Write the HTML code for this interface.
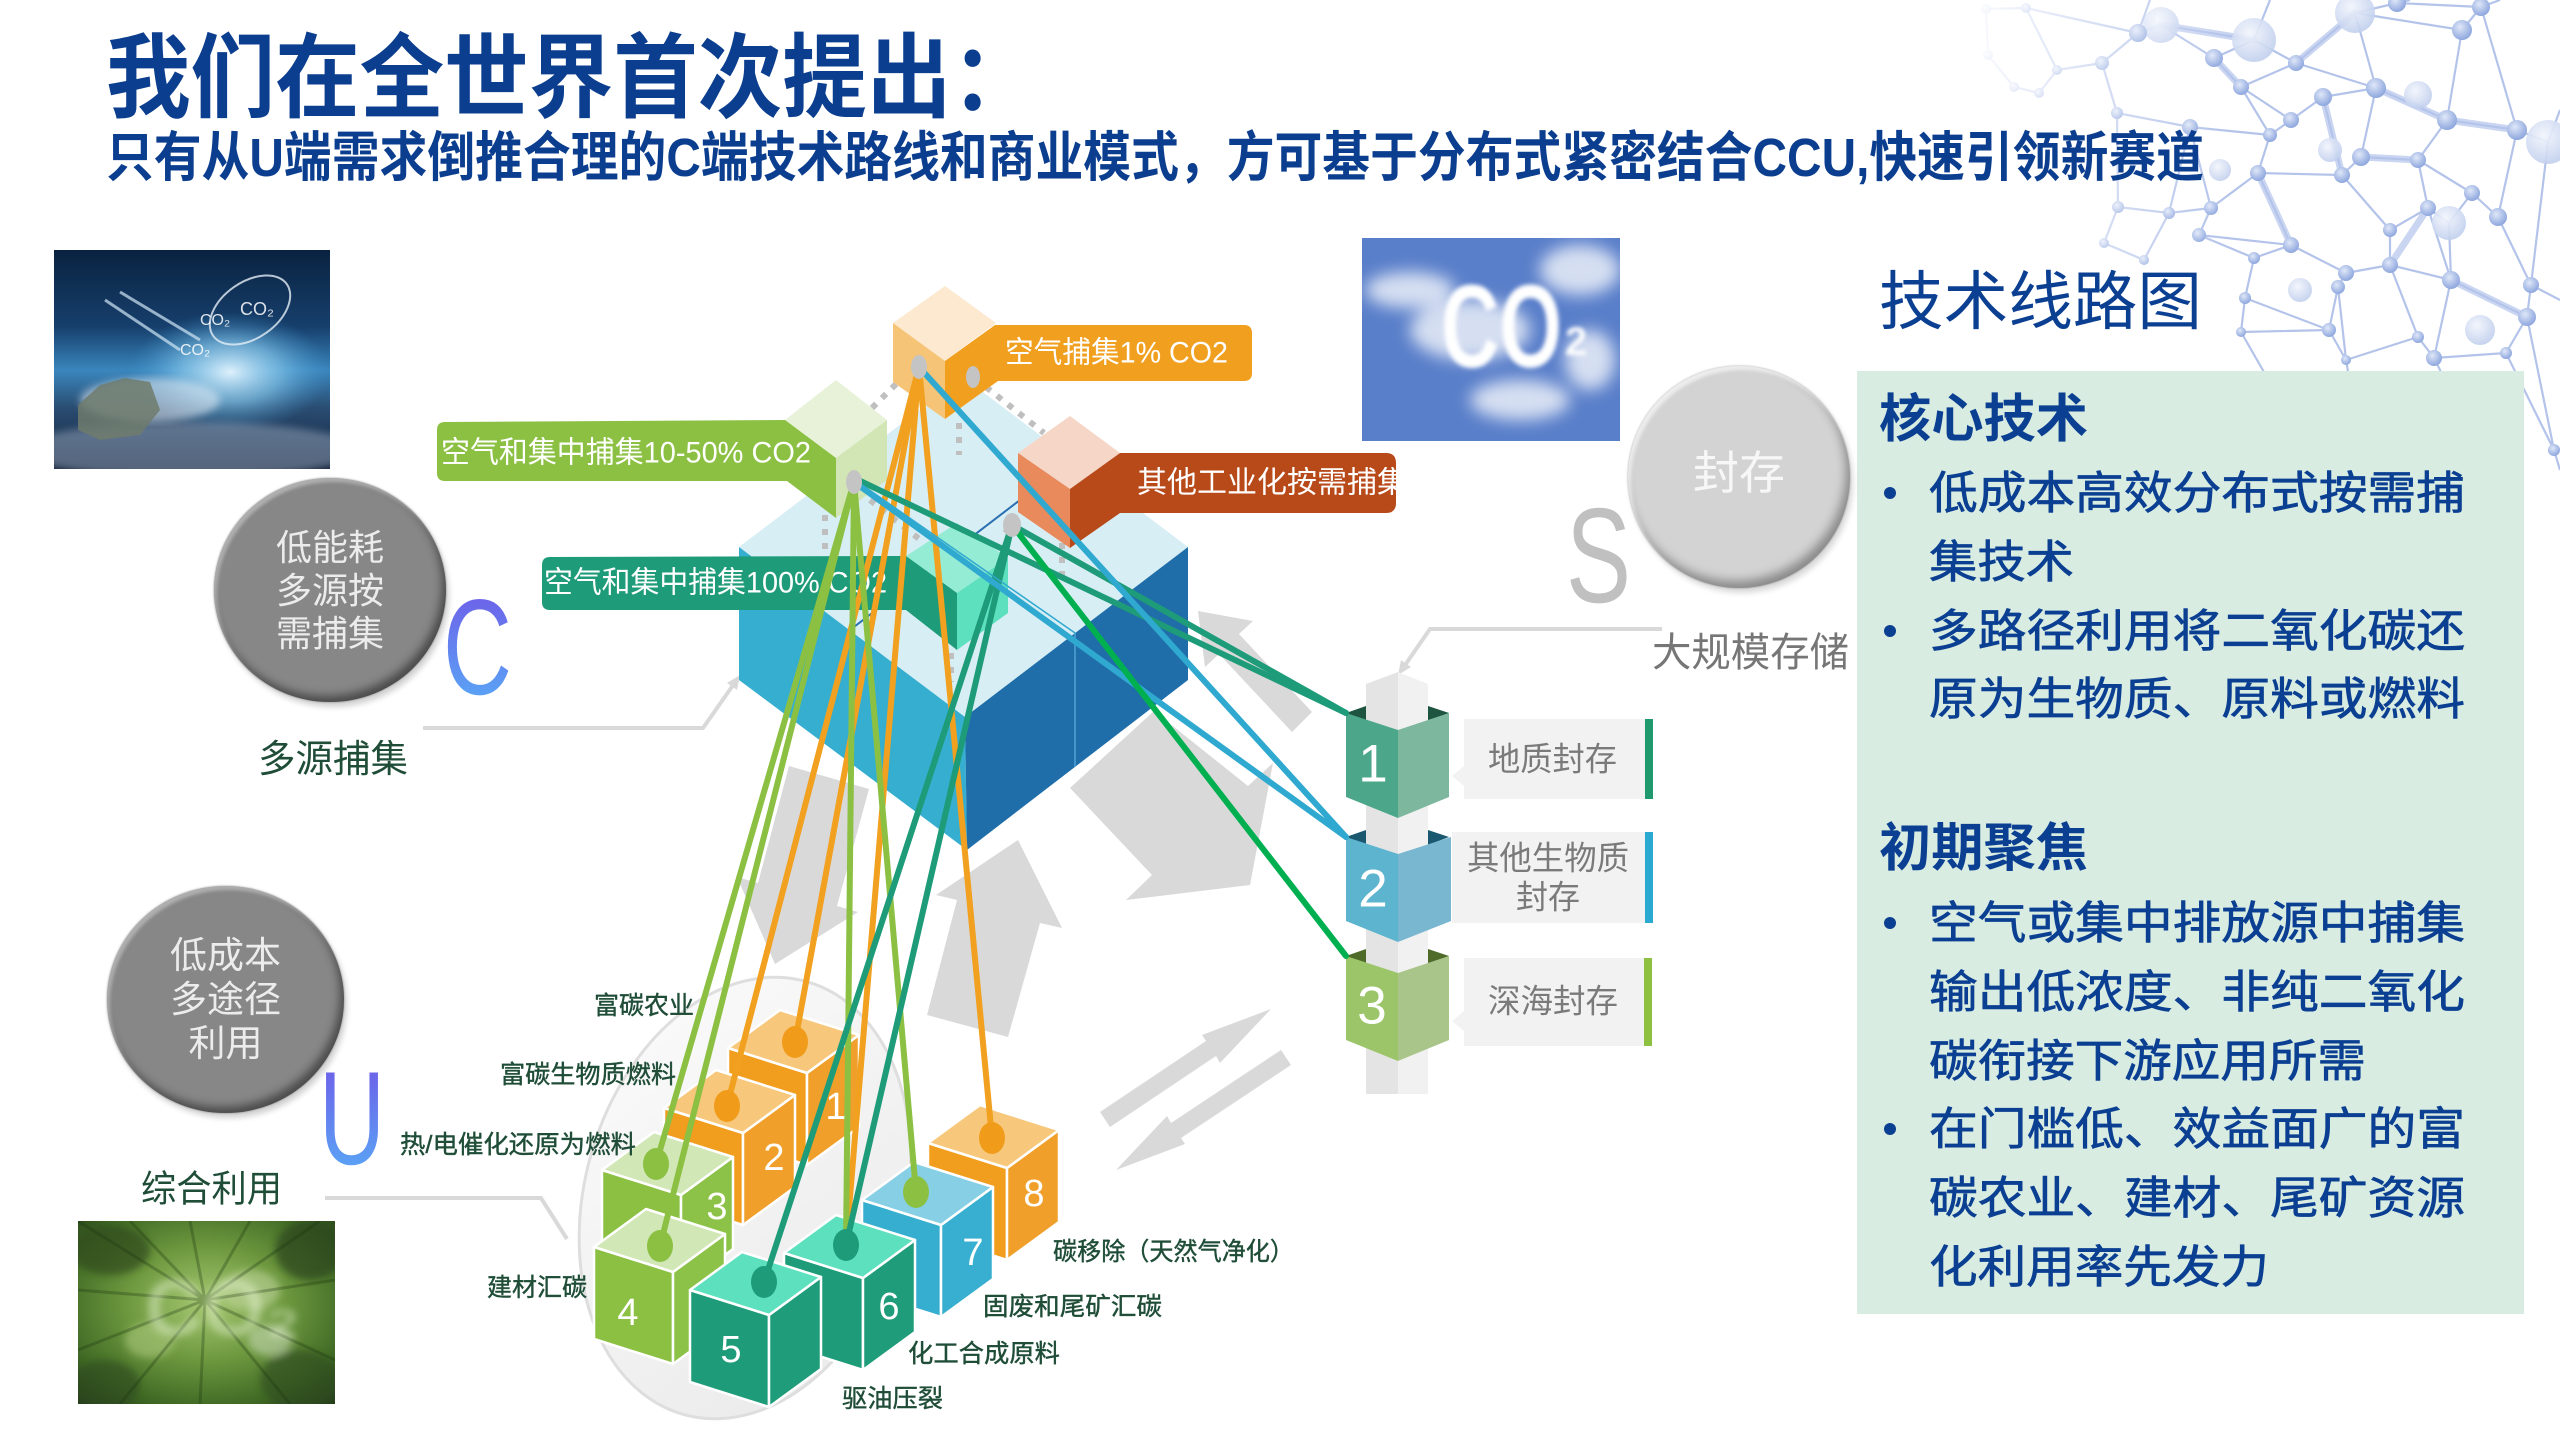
<!DOCTYPE html>
<html><head><meta charset="utf-8">
<style>
html,body{margin:0;padding:0;background:#fff;}
#page{position:relative;width:2560px;height:1440px;overflow:hidden;background:#fff;font-family:"Liberation Sans","Noto Sans CJK SC",sans-serif;}
svg text{font-family:"Liberation Sans","Noto Sans CJK SC",sans-serif;}
.circ{position:absolute;border-radius:50%;display:flex;align-items:center;justify-content:center;text-align:center;font-family:"Liberation Sans","Noto Sans CJK SC",sans-serif;}
</style></head>
<body><div id="page">
<svg width="2560" height="1440" viewBox="0 0 2560 1440" style="position:absolute;left:0;top:0">
<defs>
<linearGradient id="gC" x1="0" y1="0" x2="0" y2="1"><stop offset="0" stop-color="#7153e6"/><stop offset="1" stop-color="#56b2f8"/></linearGradient>
<linearGradient id="p1bg" x1="0" y1="0" x2="0" y2="1"><stop offset="0" stop-color="#0a2240"/><stop offset=".35" stop-color="#163f6c"/><stop offset=".55" stop-color="#3a86bd"/><stop offset=".72" stop-color="#2a4d72"/><stop offset="1" stop-color="#111f38"/></linearGradient>
<radialGradient id="p1glow"><stop offset="0" stop-color="#e6f6ff" stop-opacity=".95"/><stop offset=".5" stop-color="#8fd0f2" stop-opacity=".6"/><stop offset="1" stop-color="#4aa0d8" stop-opacity="0"/></radialGradient>
<radialGradient id="p3bg" cx=".5" cy=".45" r=".75"><stop offset="0" stop-color="#a6c872"/><stop offset=".4" stop-color="#6f9a40"/><stop offset=".75" stop-color="#416b25"/><stop offset="1" stop-color="#22391a"/></radialGradient>
<linearGradient id="ellG" x1="0" y1="1" x2="1" y2="0"><stop offset="0" stop-color="#e9e9e9"/><stop offset=".55" stop-color="#f3f3f3"/><stop offset="1" stop-color="#fcfcfc"/></linearGradient>
<linearGradient id="netFade" gradientUnits="userSpaceOnUse" x1="1960" y1="0" x2="2230" y2="0"><stop offset="0" stop-color="#000"/><stop offset=".3" stop-color="#555"/><stop offset="1" stop-color="#fff"/></linearGradient>
<mask id="netMask"><rect x="1900" y="0" width="660" height="520" fill="url(#netFade)"/></mask>
<radialGradient id="nodeG" cx=".4" cy=".35" r=".65"><stop offset="0" stop-color="#dfe7f8"/><stop offset="1" stop-color="#8ea7de"/></radialGradient>
<radialGradient id="softG" cx=".4" cy=".35" r=".65"><stop offset="0" stop-color="#f2f5fc"/><stop offset="1" stop-color="#c2d0ee"/></radialGradient>
<filter id="bl2"><feGaussianBlur stdDeviation="2"/></filter>
<filter id="bl4"><feGaussianBlur stdDeviation="4"/></filter>
<filter id="bl8"><feGaussianBlur stdDeviation="8"/></filter>
<clipPath id="cp1"><rect x="54" y="250" width="276" height="219"/></clipPath>
<clipPath id="cp2"><rect x="1362" y="238" width="258" height="203"/></clipPath>
<clipPath id="cp3"><rect x="78" y="1221" width="257" height="183"/></clipPath>
<clipPath id="cpRed"><rect x="1100" y="450" width="296" height="66"/></clipPath>
</defs>

<!-- network background -->
<g mask="url(#netMask)">
<path fill="none" stroke="#c9d5f1" stroke-width="7" stroke-linecap="round" d="M2296,63 L2355,13 M2376,88 L2447,120 M2323,97 L2342,175 M2214,58 L2241,87 M2258,173 L2291,245 M2390,265 L2428,208 M2451,280 L2527,317 M2161,25 L2254,40 M2447,120 L2517,130 M2361,157 L2418,160"/>
<path fill="none" stroke="#b3c3ea" stroke-width="2.2" d="M1986,9 L2026,8 M1986,9 L1988,55 M2026,8 L2057,70 M1988,55 L2014,87 M2014,87 L2039,93 M2057,70 L2039,93 M2057,70 L2102,63 M2026,8 L2138,33 M2102,63 L2138,33 M2138,33 L2161,25 M2161,25 L2214,58 M2102,63 L2117,113 M2117,113 L2190,127 M2214,58 L2241,87 M2214,58 L2254,40 M2254,40 L2296,63 M2296,63 L2241,87 M2296,63 L2355,13 M2355,13 L2397,3 M2397,3 L2481,7 M2481,7 L2462,30 M2462,30 L2355,13 M2355,13 L2376,88 M2376,88 L2296,63 M2376,88 L2447,120 M2447,120 L2462,30 M2447,120 L2517,130 M2517,130 L2548,142 M2517,130 L2481,7 M2447,120 L2418,160 M2418,160 L2361,157 M2361,157 L2376,88 M2361,157 L2342,175 M2342,175 L2323,97 M2323,97 L2291,120 M2291,120 L2270,135 M2270,135 L2190,127 M2270,135 L2241,87 M2323,97 L2376,88 M2342,175 L2258,173 M2258,173 L2270,135 M2258,173 L2211,208 M2211,208 L2190,127 M2211,208 L2169,213 M2169,213 L2118,207 M2118,207 L2117,113 M2118,207 L2104,243 M2104,243 L2144,260 M2144,260 L2169,213 M2199,235 L2211,208 M2199,235 L2254,258 M2254,258 L2291,245 M2291,245 L2258,173 M2291,245 L2346,273 M2346,273 L2338,287 M2338,287 L2329,330 M2329,330 L2245,298 M2245,298 L2254,258 M2245,298 L2241,332 M2241,332 L2329,330 M2329,330 L2346,360 M2346,360 L2338,287 M2346,273 L2390,265 M2390,265 L2390,230 M2390,230 L2428,208 M2428,208 L2418,160 M2428,208 L2449,223 M2449,223 L2472,193 M2472,193 L2498,217 M2498,217 L2517,130 M2498,217 L2531,285 M2531,285 L2527,317 M2527,317 L2451,280 M2451,280 L2390,265 M2451,280 L2449,223 M2451,280 L2434,358 M2434,358 L2418,337 M2418,337 L2390,265 M2434,358 L2506,353 M2506,353 L2527,317 M2506,353 L2554,450 M2527,317 L2554,450 M2390,230 L2342,175 M2291,245 L2199,235 M2346,360 L2418,337 M2254,40 L2161,25 M2291,120 L2241,87 M2428,208 L2451,280 M2472,193 L2418,160 M2190,127 L2169,213 M2548,142 L2531,285 M2548,142 L2560,110 M2531,285 L2560,300 M2554,450 L2560,470 M2481,7 L2500,0 M2397,3 L2410,0 M2138,33 L2150,0 M2254,40 L2270,0 M2346,360 L2360,440 M2434,358 L2470,430 M2241,332 L2280,400"/>
<g fill="url(#softG)" opacity=".9">
<circle cx="2161" cy="25" r="18"/><circle cx="2254" cy="40" r="22"/><circle cx="2355" cy="13" r="20"/><circle cx="2548" cy="142" r="22"/><circle cx="2449" cy="223" r="17"/><circle cx="2418" cy="95" r="14"/><circle cx="2330" cy="150" r="12"/><circle cx="2480" cy="330" r="15"/><circle cx="2300" cy="290" r="12"/><circle cx="2220" cy="170" r="11"/>
</g>
<g fill="url(#nodeG)">
<circle cx="1986" cy="9" r="5"/><circle cx="2026" cy="8" r="5"/><circle cx="1988" cy="55" r="5"/><circle cx="2057" cy="70" r="5"/><circle cx="2014" cy="87" r="5"/><circle cx="2039" cy="93" r="5"/><circle cx="2102" cy="63" r="7"/><circle cx="2138" cy="33" r="9"/><circle cx="2214" cy="58" r="9"/><circle cx="2296" cy="63" r="8"/><circle cx="2397" cy="3" r="9"/><circle cx="2462" cy="30" r="10"/><circle cx="2481" cy="7" r="9"/><circle cx="2376" cy="88" r="10"/><circle cx="2447" cy="120" r="10"/><circle cx="2517" cy="130" r="10"/><circle cx="2241" cy="87" r="8"/><circle cx="2323" cy="97" r="9"/><circle cx="2291" cy="120" r="8"/><circle cx="2270" cy="135" r="7"/><circle cx="2190" cy="127" r="8"/><circle cx="2117" cy="113" r="6"/><circle cx="2342" cy="175" r="8"/><circle cx="2361" cy="157" r="9"/><circle cx="2418" cy="160" r="8"/><circle cx="2428" cy="208" r="8"/><circle cx="2498" cy="217" r="9"/><circle cx="2472" cy="193" r="8"/><circle cx="2258" cy="173" r="8"/><circle cx="2211" cy="208" r="7"/><circle cx="2169" cy="213" r="6"/><circle cx="2118" cy="207" r="6"/><circle cx="2104" cy="243" r="5"/><circle cx="2199" cy="235" r="7"/><circle cx="2291" cy="245" r="8"/><circle cx="2254" cy="258" r="6"/><circle cx="2144" cy="260" r="5"/><circle cx="2390" cy="230" r="7"/><circle cx="2390" cy="265" r="8"/><circle cx="2451" cy="280" r="9"/><circle cx="2531" cy="285" r="8"/><circle cx="2527" cy="317" r="9"/><circle cx="2346" cy="273" r="8"/><circle cx="2338" cy="287" r="7"/><circle cx="2245" cy="298" r="6"/><circle cx="2329" cy="330" r="7"/><circle cx="2241" cy="332" r="5"/><circle cx="2434" cy="358" r="8"/><circle cx="2418" cy="337" r="6"/><circle cx="2346" cy="360" r="5"/><circle cx="2554" cy="450" r="6"/><circle cx="2506" cy="353" r="6"/>
</g>
</g>

<!-- title -->
<text x="106" y="79" dominant-baseline="central" font-size="92" font-weight="700" fill="#0c3e8f" textLength="930" lengthAdjust="spacingAndGlyphs">我们在全世界首次提出：</text>
<text x="106" y="158" dominant-baseline="central" font-size="54" font-weight="700" fill="#0c3e8f" textLength="2098" lengthAdjust="spacingAndGlyphs">只有从U端需求倒推合理的C端技术路线和商业模式，方可基于分布式紧密结合CCU,快速引领新赛道</text>

<!-- photos -->
<g clip-path="url(#cp1)">
<rect x="54" y="250" width="276" height="219" fill="url(#p1bg)"/>
<ellipse cx="230" cy="372" rx="100" ry="60" fill="url(#p1glow)"/>
<ellipse cx="190" cy="450" rx="170" ry="28" fill="#9aaac0" opacity=".5" filter="url(#bl4)"/>
<ellipse cx="150" cy="400" rx="70" ry="22" fill="#e8f0f8" opacity=".55" filter="url(#bl4)"/>
<path d="M78,405 L100,385 L125,378 L150,382 L160,410 L140,435 L100,440 L78,430Z" fill="#6e7b6c" opacity=".85"/>
<path d="M105,300 L180,350 M120,292 L200,340" stroke="#cfe6f5" stroke-width="3" opacity=".7"/>
<ellipse cx="250" cy="310" rx="45" ry="28" fill="none" stroke="#e5eef6" stroke-width="2" opacity=".8" transform="rotate(-35 250 310)"/>
<text x="200" y="325" font-size="16" fill="#fff" opacity=".85">CO₂</text>
<text x="180" y="355" font-size="16" fill="#fff" opacity=".85">CO₂</text>
<text x="240" y="315" font-size="18" fill="#fff" opacity=".85">CO₂</text>
</g>
<g clip-path="url(#cp2)">
<rect x="1362" y="238" width="258" height="203" fill="#5a7fca"/>
<g fill="#fff" filter="url(#bl8)" opacity=".75">
<ellipse cx="1410" cy="290" rx="45" ry="18"/><ellipse cx="1580" cy="270" rx="40" ry="25"/><ellipse cx="1520" cy="400" rx="50" ry="20"/><ellipse cx="1470" cy="330" rx="60" ry="30"/><ellipse cx="1590" cy="360" rx="25" ry="30"/>
</g>
<text x="1441" y="367" font-size="118" font-weight="700" fill="#fff" textLength="121" lengthAdjust="spacingAndGlyphs" filter="url(#bl2)">CO</text>
<text x="1565" y="355" font-size="40" font-weight="700" fill="#fff" filter="url(#bl2)">2</text>
</g>
<g clip-path="url(#cp3)">
<rect x="78" y="1221" width="257" height="183" fill="url(#p3bg)"/>
<g filter="url(#bl4)">
<ellipse cx="110" cy="1250" rx="40" ry="25" fill="#2c4a1c" opacity=".7"/>
<ellipse cx="310" cy="1250" rx="35" ry="30" fill="#2a451a" opacity=".7"/>
<ellipse cx="300" cy="1380" rx="40" ry="30" fill="#2c4a1c" opacity=".6"/>
<ellipse cx="105" cy="1385" rx="35" ry="25" fill="#2c4a1c" opacity=".6"/>
<ellipse cx="250" cy="1290" rx="30" ry="20" fill="#c9dca8" opacity=".5"/>
<ellipse cx="150" cy="1340" rx="25" ry="18" fill="#a8c67a" opacity=".6"/>
<ellipse cx="270" cy="1340" rx="22" ry="16" fill="#d6e3c7" opacity=".5"/>
</g>
<path stroke="#1b3410" stroke-width="3" opacity=".3" d="M205,1300 L78,1221 M205,1300 L130,1221 M205,1300 L190,1221 M205,1300 L250,1221 M205,1300 L320,1221 M205,1300 L335,1280 M205,1300 L335,1360 M205,1300 L290,1404 M205,1300 L200,1404 M205,1300 L120,1404 M205,1300 L78,1350 M205,1300 L78,1290"/>
<text x="145" y="1335" font-size="80" font-weight="700" fill="#eaf6d8" opacity=".45" filter="url(#bl4)">CO₂</text>
</g>

<!-- gray arrows -->
<g fill="#d9d9d9">
<polygon points="789,766 869,789 837,906 858,912 775,964 737,877 758,883"/>
<polygon points="927,1015 1008,1037 1040,923 1062,928 1018,840 936,895 957,900"/>
<polygon points="1070,788 1154,711 1248,786 1273,763 1250,885 1126,900 1152,875"/>
<polygon points="1198,611 1253,621 1239,634 1312,712 1292,732 1219,654 1205,667"/>
<polygon points="1271,1009 1220,1063 1216,1056 1110,1127 1100,1112 1206,1041 1202,1035"/>
<polygon points="1116,1170 1167,1116 1171,1123 1281,1050 1291,1065 1181,1138 1185,1144"/>
</g>

<!-- ellipse under cubes -->
<ellipse cx="745" cy="1198" rx="225" ry="160" transform="rotate(-74 745 1198)" fill="url(#ellG)" stroke="#dedede" stroke-width="3"/>

<!-- connectors -->
<g fill="none" stroke="#d9d9d9" stroke-width="4">
<polyline points="423,728 703,728 736,681"/>
<polyline points="325,1198 541,1198 567,1239"/>
<polyline points="1662,629 1430,629 1403,668"/>
</g>
<polygon points="740,675 737,690 727,683" fill="#d9d9d9"/>
<polygon points="1398,675 1411,667 1401,660" fill="#d9d9d9"/>

<!-- big cube -->
<polygon points="963,377 1188,547 965,717 739,547" fill="#d8eef5"/>
<polygon points="739,547 965,717 967,850 739,680" fill="#36aecf"/>
<polygon points="965,717 1188,547 1188,680 967,850" fill="#1f6ea9"/>
<line x1="1075" y1="633" x2="1075" y2="767" stroke="#4fa3d6" stroke-width="1.5"/>
<line x1="850" y1="630" x2="1020" y2="500" stroke="#2a6fb0" stroke-width="2"/>

<!-- dotted -->
<g stroke="#bfbfbf" stroke-width="6" stroke-dasharray="6 8" fill="none">
<line x1="872" y1="408" x2="907" y2="373"/>
<line x1="986" y1="387" x2="1044" y2="433"/>
<line x1="870" y1="500" x2="923" y2="542"/>
<line x1="1028" y1="508" x2="1003" y2="535"/>
<line x1="959" y1="423" x2="959" y2="455"/>
<line x1="825" y1="515" x2="825" y2="555"/>
<line x1="1062" y1="543" x2="1062" y2="585"/>
<line x1="951" y1="653" x2="951" y2="682"/>
</g>

<!-- orange small cube -->
<polygon points="945,286 996,323 945,361 893,323" fill="#fce9d0"/>
<polygon points="893,323 945,361 945,419 893,382" fill="#f6c476"/>
<path d="M945,361 L995,325 L1244,325 Q1252,325 1252,333 L1252,373 Q1252,381 1244,381 L998,381 L945,419 Z" fill="#f19f1e"/>
<text x="1005" y="353" dominant-baseline="central" font-size="30" fill="#fff" textLength="223" lengthAdjust="spacingAndGlyphs">空气捕集1% CO2</text>

<!-- green small cube -->
<polygon points="836,380 887,420 836,458 785,420" fill="#e7f2d9"/>
<polygon points="836,458 887,420 887,480 836,518" fill="#d1e6b4"/>
<path d="M445,422 L785,420 L836,458 L836,518 L787,481 L445,481 Q437,481 437,473 L437,430 Q437,422 445,422 Z" fill="#8bc043"/>
<text x="441" y="453" dominant-baseline="central" font-size="30" fill="#fff" textLength="370" lengthAdjust="spacingAndGlyphs">空气和集中捕集10-50% CO2</text>

<!-- red small cube -->
<polygon points="1070,416 1120,453 1070,489 1018,453" fill="#f6d6c7"/>
<polygon points="1018,453 1070,489 1070,548 1018,512" fill="#e88a5c"/>
<path d="M1070,489 L1120,453 L1386,453 Q1396,453 1396,463 L1396,503 Q1396,513 1386,513 L1120,513 L1070,548 Z" fill="#b84a1a"/>
<text x="1137" y="483" dominant-baseline="central" font-size="30" fill="#fff" clip-path="url(#cpRed)">其他工业化按需捕集</text>

<!-- teal small cube -->
<polygon points="957,523 1008,558 957,593 906,556" fill="#95ecd4"/>
<polygon points="957,593 1008,558 1008,613 957,650" fill="#5de0be"/>
<path d="M550,557 L906,556 L957,593 L957,650 L906,610 L550,610 Q542,610 542,602 L542,565 Q542,557 550,557 Z" fill="#1e9b78"/>
<text x="544" y="583" dominant-baseline="central" font-size="30" fill="#fff" textLength="343" lengthAdjust="spacingAndGlyphs">空气和集中捕集100% CO2</text>

<!-- storage pillar -->
<polygon points="1366,684 1398,672 1398,1094 1366,1094" fill="#e4e4e4"/>
<polygon points="1398,672 1428,684 1428,1094 1398,1094" fill="#f1f1f1"/>
<polygon points="1346,713 1366,706 1366,721" fill="#1d5540"/><polygon points="1428,706 1449,713 1428,721" fill="#1d5540"/>
<polygon points="1346,713 1398,730 1398,818 1346,797" fill="#4ca78a"/>
<polygon points="1398,730 1449,713 1449,797 1398,818" fill="#7cb79e"/>
<polygon points="1346,837 1366,830 1366,845" fill="#1a5870"/><polygon points="1428,830 1449,837 1428,845" fill="#1a5870"/>
<polygon points="1346,837 1398,854 1398,942 1346,921" fill="#5db4cf"/>
<polygon points="1398,854 1451,837 1451,921 1398,942" fill="#79b7d1"/>
<polygon points="1346,956 1366,949 1366,964" fill="#4f6b2a"/><polygon points="1428,949 1449,956 1428,964" fill="#4f6b2a"/>
<polygon points="1346,956 1398,973 1398,1061 1346,1040" fill="#9cc56a"/>
<polygon points="1398,973 1449,956 1449,1040 1398,1061" fill="#a9c589"/>
<g fill="#fff" font-size="53" text-anchor="middle" dominant-baseline="central">
<text x="1373" y="764">1</text><text x="1373" y="889">2</text><text x="1372" y="1006">3</text>
</g>
<rect x="1464" y="719" width="181" height="80" fill="#f2f2f2"/><polygon points="1464,766 1452,776 1464,786" fill="#f2f2f2"/><rect x="1645" y="719" width="8" height="80" fill="#1e9a6e"/>
<rect x="1452" y="832" width="193" height="91" fill="#f2f2f2"/><rect x="1645" y="832" width="8" height="91" fill="#2aa9d2"/>
<rect x="1464" y="958" width="180" height="88" fill="#f2f2f2"/><polygon points="1464,1011 1452,1021 1464,1031" fill="#f2f2f2"/><rect x="1644" y="958" width="8" height="88" fill="#8dc13f"/>
<g fill="#7a7a7a" font-size="33" dominant-baseline="central">
<text x="1488" y="759" textLength="129" lengthAdjust="spacingAndGlyphs">地质封存</text>
<text x="1467" y="858" textLength="162" lengthAdjust="spacingAndGlyphs">其他生物质</text>
<text x="1516" y="897" textLength="64" lengthAdjust="spacingAndGlyphs">封存</text>
<text x="1488" y="1001" textLength="130" lengthAdjust="spacingAndGlyphs">深海封存</text>
</g>

<!-- bottom cubes -->
<g stroke="#fff" stroke-width="2.5" stroke-linejoin="round">
<polygon points="728,1048 807,1073 807,1165 728,1140" fill="#f19d1d"/><polygon points="807,1073 859,1035 859,1127 807,1165" fill="#f0a02a"/><polygon points="807,1073 728,1048 780,1010 859,1035" fill="#f7c77b"/>
<polygon points="664,1108 743,1133 743,1225 664,1200" fill="#f19d1d"/><polygon points="743,1133 795,1095 795,1187 743,1225" fill="#f0a02a"/><polygon points="743,1133 664,1108 716,1070 795,1095" fill="#f7c77b"/>
<polygon points="928,1143 1007,1168 1007,1260 928,1235" fill="#f19d1d"/><polygon points="1007,1168 1059,1130 1059,1222 1007,1260" fill="#f0a02a"/><polygon points="1007,1168 928,1143 980,1105 1059,1130" fill="#f7c77b"/>
<polygon points="602,1170 681,1195 681,1287 602,1262" fill="#8bc043"/><polygon points="681,1195 733,1157 733,1249 681,1287" fill="#8dc248"/><polygon points="681,1195 602,1170 654,1132 733,1157" fill="#d1e7b6"/>
<polygon points="862,1200 941,1225 941,1317 862,1292" fill="#36aed0"/><polygon points="941,1225 993,1187 993,1279 941,1317" fill="#38afd0"/><polygon points="941,1225 862,1200 914,1162 993,1187" fill="#87cfe4"/>
<polygon points="784,1253 863,1278 863,1370 784,1345" fill="#1e9b78"/><polygon points="863,1278 915,1240 915,1332 863,1370" fill="#1f9c79"/><polygon points="863,1278 784,1253 836,1215 915,1240" fill="#5ce0be"/>
<polygon points="594,1247 673,1272 673,1364 594,1339" fill="#8bc043"/><polygon points="673,1272 725,1234 725,1326 673,1364" fill="#8dc248"/><polygon points="673,1272 594,1247 646,1209 725,1234" fill="#d1e7b6"/>
<polygon points="690,1290 769,1315 769,1407 690,1382" fill="#1e9b78"/><polygon points="769,1315 821,1277 821,1369 769,1407" fill="#1f9c79"/><polygon points="769,1315 690,1290 742,1252 821,1277" fill="#5ce0be"/>
</g>
<g fill="#fff" font-size="38" text-anchor="middle" dominant-baseline="central">
<text x="836" y="1107">1</text><text x="774" y="1158">2</text><text x="717" y="1207">3</text><text x="628" y="1313">4</text><text x="731" y="1350">5</text><text x="889" y="1307">6</text><text x="973" y="1253">7</text><text x="1034" y="1194">8</text>
</g>

<!-- connection lines -->
<g fill="none" stroke-width="6" stroke-linecap="round">
<g stroke="#f1a01f">
<line x1="919" y1="367" x2="795" y2="1042"/><line x1="919" y1="367" x2="727" y2="1106"/><line x1="919" y1="367" x2="846" y2="1245"/><line x1="919" y1="367" x2="992" y2="1138"/>
</g>
<g stroke="#8cc043">
<line x1="854" y1="482" x2="656" y2="1164"/><line x1="854" y1="482" x2="660" y2="1246"/><line x1="854" y1="482" x2="846" y2="1245"/><line x1="854" y1="482" x2="916" y2="1192"/>
</g>
<g stroke="#1e9b78">
<line x1="1012" y1="525" x2="764" y2="1282"/><line x1="1012" y1="525" x2="846" y2="1245"/>
<line x1="854" y1="478" x2="1346" y2="713"/><line x1="1012" y1="525" x2="1346" y2="713"/>
</g>
<g stroke="#30a9d0">
<line x1="919" y1="367" x2="1346" y2="837"/><line x1="854" y1="482" x2="1346" y2="837"/>
</g>
<line x1="1012" y1="525" x2="1346" y2="956" stroke="#00b050"/>
<line x1="855" y1="480" x2="1075" y2="633" stroke="#30a9d0" stroke-width="1.5"/>
</g>
<g fill="#c4c4c4">
<ellipse cx="919" cy="367" rx="8" ry="12"/><ellipse cx="973" cy="377" rx="7" ry="11"/><ellipse cx="854" cy="482" rx="8" ry="12"/><ellipse cx="1012" cy="525" rx="9" ry="12"/>
</g>
<ellipse cx="795" cy="1042" rx="13" ry="16" fill="#f09c1a"/>
<ellipse cx="727" cy="1106" rx="13" ry="16" fill="#f09c1a"/>
<ellipse cx="992" cy="1138" rx="13" ry="16" fill="#f09c1a"/>
<ellipse cx="656" cy="1164" rx="13" ry="16" fill="#8cc043"/>
<ellipse cx="660" cy="1246" rx="13" ry="16" fill="#8cc043"/>
<ellipse cx="916" cy="1192" rx="13" ry="16" fill="#8cc043"/>
<ellipse cx="764" cy="1282" rx="13" ry="16" fill="#1e9b78"/>
<ellipse cx="846" cy="1245" rx="13" ry="16" fill="#1e9b78"/>

<!-- diagram labels -->
<g fill="#1f4d37" font-size="25" dominant-baseline="central" stroke="#1f4d37" stroke-width=".4">
<text x="594" y="1006" textLength="100" lengthAdjust="spacingAndGlyphs">富碳农业</text>
<text x="500" y="1075" textLength="176" lengthAdjust="spacingAndGlyphs">富碳生物质燃料</text>
<text x="400" y="1145" textLength="236" lengthAdjust="spacingAndGlyphs">热/电催化还原为燃料</text>
<text x="487" y="1288" textLength="100" lengthAdjust="spacingAndGlyphs">建材汇碳</text>
<text x="1053" y="1252" textLength="241" lengthAdjust="spacingAndGlyphs">碳移除（天然气净化）</text>
<text x="983" y="1307" textLength="179" lengthAdjust="spacingAndGlyphs">固废和尾矿汇碳</text>
<text x="908" y="1354" textLength="152" lengthAdjust="spacingAndGlyphs">化工合成原料</text>
<text x="842" y="1399" textLength="101" lengthAdjust="spacingAndGlyphs">驱油压裂</text>
</g>
<text x="258" y="760" dominant-baseline="central" font-size="38" fill="#1f4d37" textLength="150" lengthAdjust="spacingAndGlyphs">多源捕集</text>
<text x="141" y="1189" dominant-baseline="central" font-size="37" fill="#1f4d37" textLength="141" lengthAdjust="spacingAndGlyphs">综合利用</text>
<text x="1652" y="653" dominant-baseline="central" font-size="40" fill="#767676" textLength="197" lengthAdjust="spacingAndGlyphs">大规模存储</text>

<!-- big letters -->
<text x="443" y="694" font-size="136" fill="url(#gC)" textLength="69" lengthAdjust="spacingAndGlyphs">C</text>
<text x="319" y="1164" font-size="133" fill="url(#gC)" textLength="66" lengthAdjust="spacingAndGlyphs">U</text>
<text x="1566" y="602" font-size="135" fill="#c0c0c0" textLength="65" lengthAdjust="spacingAndGlyphs">S</text>

<!-- right panel -->
<text x="1879" y="302" dominant-baseline="central" font-size="64" fill="#0b3f92" textLength="323" lengthAdjust="spacingAndGlyphs">技术线路图</text>
<rect x="1857" y="371" width="667" height="943" fill="#d9ece1"/>
<g fill="#0b3f92">
<text x="1879" y="420" dominant-baseline="central" font-size="52" font-weight="700" textLength="209" lengthAdjust="spacingAndGlyphs">核心技术</text>
<text x="1879" y="849" dominant-baseline="central" font-size="52" font-weight="700" textLength="209" lengthAdjust="spacingAndGlyphs">初期聚焦</text>
<circle cx="1890" cy="493" r="6"/><circle cx="1890" cy="631" r="6"/><circle cx="1890" cy="923" r="6"/><circle cx="1890" cy="1129" r="6"/>
<g font-size="45" dominant-baseline="central" stroke="#0b3f92" stroke-width=".7">
<text x="1929" y="493" textLength="536" lengthAdjust="spacingAndGlyphs">低成本高效分布式按需捕</text>
<text x="1929" y="562" textLength="145" lengthAdjust="spacingAndGlyphs">集技术</text>
<text x="1929" y="631" textLength="536" lengthAdjust="spacingAndGlyphs">多路径利用将二氧化碳还</text>
<text x="1929" y="699" textLength="536" lengthAdjust="spacingAndGlyphs">原为生物质、原料或燃料</text>
<text x="1929" y="923" textLength="536" lengthAdjust="spacingAndGlyphs">空气或集中排放源中捕集</text>
<text x="1929" y="992" textLength="536" lengthAdjust="spacingAndGlyphs">输出低浓度、非纯二氧化</text>
<text x="1929" y="1061" textLength="437" lengthAdjust="spacingAndGlyphs">碳衔接下游应用所需</text>
<text x="1929" y="1129" textLength="536" lengthAdjust="spacingAndGlyphs">在门槛低、效益面广的富</text>
<text x="1929" y="1198" textLength="536" lengthAdjust="spacingAndGlyphs">碳农业、建材、尾矿资源</text>
<text x="1929" y="1267" textLength="340" lengthAdjust="spacingAndGlyphs">化利用率先发力</text>
</g>
</g>
</svg>

<div class="circ" style="left:214px;top:478px;width:232px;height:224px;background:#878787;box-shadow:inset 3px 4px 3px rgba(255,255,255,0.35),inset -4px -6px 9px rgba(0,0,0,0.45),0 0 2px rgba(0,0,0,0.4),3px 5px 6px rgba(0,0,0,0.18);color:#ececec;font-size:36px;line-height:43px;">低能耗<br>多源按<br>需捕集</div>
<div class="circ" style="left:107px;top:886px;width:237px;height:227px;background:#878787;box-shadow:inset 3px 4px 3px rgba(255,255,255,0.35),inset -4px -6px 9px rgba(0,0,0,0.45),0 0 2px rgba(0,0,0,0.4),3px 5px 6px rgba(0,0,0,0.18);color:#ececec;font-size:37px;line-height:44px;">低成本<br>多途径<br>利用</div>
<div class="circ" style="left:1628px;top:366px;width:222px;height:222px;background:#d3d3d3;box-shadow:inset 3px 4px 3px rgba(255,255,255,0.6),inset -4px -7px 10px rgba(0,0,0,0.35),0 0 2px rgba(0,0,0,0.35),3px 5px 6px rgba(0,0,0,0.15);color:#f7f7f7;font-size:46px;line-height:50px;padding-bottom:8px;box-sizing:border-box;">封存</div>
</div></body></html>
